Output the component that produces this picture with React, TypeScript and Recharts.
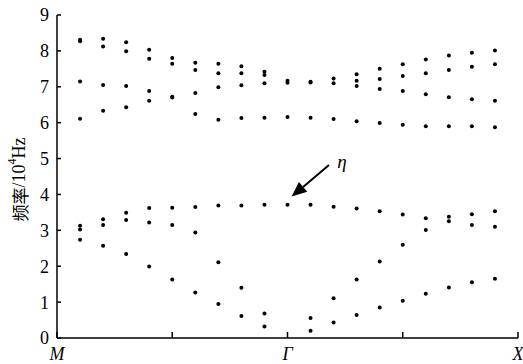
import React from 'react';
import { ScatterChart, Scatter, XAxis, YAxis, ReferenceLine, Label } from 'recharts';

// wave vector positions along M -> Γ -> X (0 = M, 1 = Γ, 2 = X)
const kValues = [0.1, 0.2, 0.3, 0.4, 0.5, 0.6, 0.7, 0.8, 0.9, 1.0, 1.1, 1.2, 1.3, 1.4, 1.5, 1.6, 1.7, 1.8, 1.9];

// frequencies (10^4 Hz) found at each k
const freqsAtK = [
  [8.31, 8.27, 7.15, 6.11, 3.13, 3.02, 2.74],
  [8.34, 8.12, 7.05, 6.33, 3.31, 3.15, 2.57],
  [8.24, 7.99, 7.02, 6.43, 3.49, 3.29, 2.34],
  [8.03, 7.78, 6.88, 6.61, 3.62, 3.22, 1.99],
  [7.8, 7.64, 6.72, 6.7, 3.63, 3.15, 1.63],
  [7.67, 7.47, 6.83, 6.24, 3.65, 2.94, 1.27],
  [7.64, 7.38, 6.99, 6.08, 3.69, 2.11, 0.95],
  [7.57, 7.38, 7.04, 6.13, 3.69, 1.4, 0.61],
  [7.42, 7.33, 7.1, 6.14, 3.71, 0.68, 0.32],
  [7.17, 7.11, 6.16, 3.71],
  [7.14, 7.12, 6.14, 3.71, 0.56, 0.2],
  [7.23, 7.1, 6.1, 3.66, 1.11, 0.43],
  [7.35, 7.17, 7.02, 6.04, 3.61, 1.63, 0.64],
  [7.5, 7.22, 6.94, 5.99, 3.53, 2.13, 0.85],
  [7.63, 7.3, 6.88, 5.94, 3.44, 2.6, 1.04],
  [7.76, 7.38, 6.79, 5.9, 3.34, 3.01, 1.23],
  [7.87, 7.47, 6.71, 5.9, 3.38, 3.25, 1.41],
  [7.95, 7.56, 6.65, 5.9, 3.45, 3.15, 1.55],
  [8.01, 7.63, 6.61, 5.87, 3.53, 3.1, 1.65],
];

const xTicks = [0, 0.5, 1, 1.5, 2];
const xTickNames: Record<string, string> = { '0': 'M', '1': 'Γ', '2': 'X' };
const yTicks = [0, 1, 2, 3, 4, 5, 6, 7, 8, 9];

// annotation arrow pointing at the η mode
const arrowFrom = { k: 1.18, f: 4.82 };
const arrowTo = { k: 1.018, f: 3.94 };

const points = kValues.flatMap((k, i) => freqsAtK[i].map(f => ({ k, f })));

const serif = '"Liberation Serif", "DejaVu Serif", serif';

const Dot = (p: any) => <circle cx={p.cx} cy={p.cy} r={2} fill="#000" />;

const Arrow = (p: any) => {
  const { x1, y1, x2, y2 } = p;
  const dx = x2 - x1, dy = y2 - y1;
  const len = Math.hypot(dx, dy);
  const ux = dx / len, uy = dy / len;
  const hl = 15, hw = 6.5;
  const bx = x2 - ux * hl, by = y2 - uy * hl;
  return (
    <g>
      <line x1={x1} y1={y1} x2={bx} y2={by} stroke="#000" strokeWidth={2} />
      <polygon
        points={`${x2},${y2} ${bx - uy * hw},${by + ux * hw} ${bx + uy * hw},${by - ux * hw}`}
        fill="#000"
      />
      <text x={x1 + 13} y={y1 + 3} fontFamily={serif} fontStyle="italic" fontSize={19} textAnchor="middle">
        η
      </text>
    </g>
  );
};

const YTitle = (p: any) => {
  const vb = p.viewBox;
  const cx = vb.x + 19;
  const cy = vb.y + vb.height / 2 + 3;
  return (
    <text
      x={cx}
      y={cy}
      transform={`rotate(-90 ${cx} ${cy})`}
      textAnchor="middle"
      dominantBaseline="central"
      fontSize={18}
      fontFamily={serif}
      fill="#000"
    >
      <tspan fontFamily='"Noto Sans CJK SC", sans-serif' fontSize={17}>频率</tspan>
      /10
      <tspan dy={-7} fontSize={12}>4</tspan>
      <tspan dy={7}>Hz</tspan>
    </text>
  );
};

export default function App() {
  return (
    <div style={{ width: 523, height: 364, background: '#fff' }}>
      <style>{'body{margin:0}'}</style>
      <ScatterChart width={523} height={364} margin={{ top: 15, right: 5, bottom: 0, left: 0 }}>
        <XAxis
          dataKey="k"
          type="number"
          domain={[0, 2]}
          ticks={xTicks}
          interval={0}
          height={26}
          stroke="#000"
          strokeWidth={1.5}
          tickSize={-6}
          tickMargin={15}
          tickFormatter={(v: number) => xTickNames[String(v)] ?? ''}
          tick={{ fill: '#000', fontSize: 18, fontStyle: 'italic', fontFamily: serif }}
        />
        <XAxis
          xAxisId="top"
          orientation="top"
          type="number"
          domain={[0, 2]}
          ticks={xTicks}
          interval={0}
          height={0}
          stroke="#000"
          strokeWidth={1.5}
          tickSize={-6}
          tickFormatter={() => ''}
        />
        <YAxis
          dataKey="f"
          type="number"
          domain={[0, 9]}
          ticks={yTicks}
          interval={0}
          width={57}
          stroke="#000"
          strokeWidth={1.5}
          tickSize={-4}
          tickMargin={12}
          tick={{ fill: '#000', fontSize: 18, fontFamily: serif }}
        >
          <Label content={YTitle} />
        </YAxis>
        <YAxis
          yAxisId="right"
          orientation="right"
          type="number"
          domain={[0, 9]}
          ticks={yTicks}
          interval={0}
          width={0}
          stroke="#000"
          strokeWidth={1.5}
          tickSize={-4}
          tickFormatter={() => ''}
        />
        <Scatter data={points} shape={Dot} isAnimationActive={false} />
        <ReferenceLine
          segment={[
            { x: arrowFrom.k, y: arrowFrom.f },
            { x: arrowTo.k, y: arrowTo.f },
          ]}
          shape={Arrow}
          ifOverflow="visible"
        />
      </ScatterChart>
    </div>
  );
}
